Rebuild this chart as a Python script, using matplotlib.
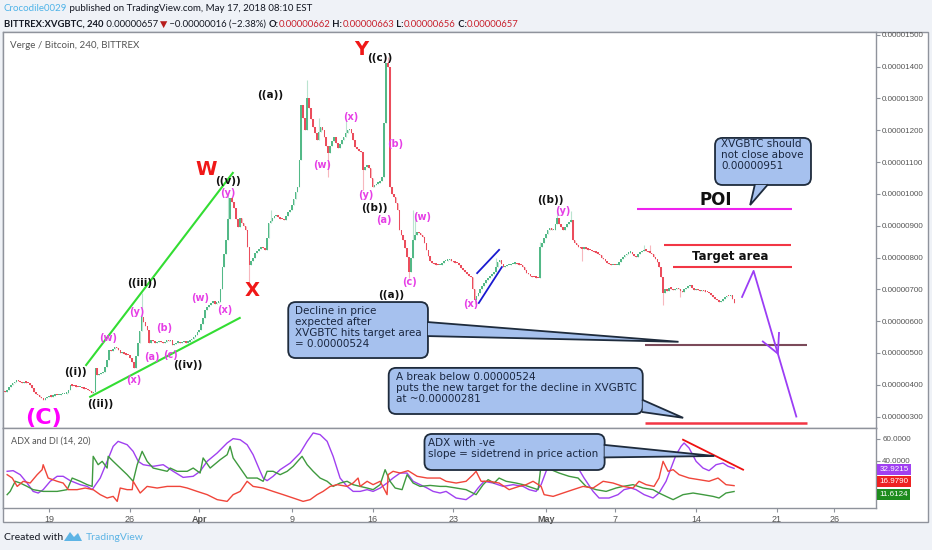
import matplotlib
matplotlib.use("Agg")
import matplotlib.pyplot as plt
from matplotlib.patches import FancyBboxPatch, Polygon, Rectangle
import numpy as np

# 4h candles, closes in satoshi (1e-8 BTC), Mar 15 00:00 -> May 17 08:00
closes = [
    380, 377, 385, 392, 400, 405, 410, 415, 412, 408,
    404, 410, 407, 405, 398, 390, 377, 372, 368, 362,
    357, 352, 358, 362, 365, 363, 366, 368, 367, 368,
    370, 371, 372, 374, 385, 399, 397, 395, 394, 392,
    393, 390, 388, 386, 384, 380, 374, 376, 453, 431,
    433, 436, 440, 455, 478, 509, 505, 512, 519, 515,
    508, 500, 503, 498, 495, 494, 484, 470, 453, 490,
    531, 570, 613, 598, 585, 572, 531, 540, 536, 530,
    534, 538, 533, 531, 535, 542, 538, 541, 525, 528,
    532, 535, 531, 533, 536, 532, 534, 540, 545, 550,
    556, 565, 572, 590, 610, 635, 645, 652, 657, 662,
    655, 658, 660, 700, 770, 810, 855, 920, 987, 975,
    956, 920, 896, 924, 910, 900, 887, 833, 777, 790,
    800, 814, 820, 826, 833, 830, 824, 860, 909, 915,
    925, 930, 934, 928, 922, 920, 918, 930, 942, 950,
    965, 985, 1005, 1022, 1107, 1280, 1240, 1201, 1302, 1270,
    1235, 1211, 1190, 1170, 1195, 1211, 1201, 1180, 1150, 1129,
    1150, 1165, 1179, 1160, 1145, 1158, 1170, 1179, 1190, 1201,
    1205, 1192, 1170, 1148, 1140, 1135, 1132, 1075, 1085, 1090,
    1082, 1050, 1022, 1028, 1032, 1035, 1040, 1053, 1223, 1412,
    1400, 1022, 1000, 991, 970, 950, 887, 870, 855, 830,
    802, 755, 800, 855, 870, 880, 876, 870, 865, 845,
    824, 805, 790, 783, 780, 778, 776, 777, 782, 788,
    790, 792, 795, 790, 786, 784, 783, 775, 768, 761,
    755, 748, 743, 739, 700, 667, 680, 689, 700, 712,
    720, 728, 735, 742, 748, 755, 770, 785, 792, 780,
    770, 772, 775, 777, 779, 781, 782, 780, 778, 777,
    770, 760, 752, 748, 743, 739, 738, 737, 736, 833,
    845, 860, 875, 887, 892, 885, 887, 905, 924, 905,
    895, 887, 895, 905, 912, 918, 855, 845, 838, 834,
    830, 828, 832, 826, 825, 824, 820, 818, 815, 812,
    808, 800, 795, 790, 783, 780, 776, 778, 775, 777,
    785, 795, 802, 808, 812, 815, 818, 812, 806, 802,
    810, 816, 820, 824, 822, 818, 815, 810, 802, 795,
    785, 770, 740, 689, 700, 695, 705, 702, 698, 700,
    705, 700, 695, 692, 700, 705, 710, 714, 705, 698,
    700, 698, 695, 697, 694, 693, 692, 688, 682, 676,
    670, 665, 660, 662, 670, 675, 680, 678, 682, 670,
    657,
]
first_open = 375
high_wicks = {72: 689, 117: 1000, 128: 800, 139: 950, 158: 1358, 164: 1240, 178: 1230,
              200: 1431, 213: 950, 214: 940, 256: 800, 279: 850, 288: 945, 295: 945,
              333: 840, 336: 840}
low_wicks = {128: 723, 169: 1053, 187: 1013, 211: 735, 245: 655, 301: 790, 343: 651, 352: 675}

# ADX / DI (14, 20) lines, x in days from Mar 19
adx_t = [-3.64, -3.12, -2.51, -1.91, -1.39, -0.95, -0.52, 0.09, 0.69, 1.21, 1.82, 2.68, 3.29, 3.72,
         4.42, 5.02, 5.54, 5.97, 6.75, 7.27, 7.71, 8.14, 9.00, 9.87, 10.74, 11.60, 12.47, 13.07,
         13.68, 14.55, 15.41, 15.93, 16.54, 17.14, 17.66, 18.27, 18.53, 18.87, 19.39, 20.00,
         20.87, 21.73, 22.34, 22.86, 23.46, 24.07, 24.59, 25.19, 25.80, 26.32, 26.93, 27.53,
         28.05, 28.66, 29.26, 29.78, 30.39, 30.99, 31.52, 32.12, 32.73, 33.25, 33.85, 34.37,
         35.24, 36.10, 36.71, 37.14, 37.66, 38.44, 39.31, 40.17, 41.04, 41.56, 42.16, 42.60,
         43.03, 43.46, 44.07, 44.50, 45.02, 45.63, 46.32, 47.10, 47.62, 48.48, 49.26, 49.78,
         50.39, 50.82, 51.52, 52.29, 52.81, 53.42, 53.85, 54.29, 54.72, 54.98, 55.41, 56.02,
         56.62, 57.14, 57.75, 58.35, 58.79, 59.31]
adx_v = [30.2, 30.8, 27.1, 19.4, 11.7, 10.2, 13.3, 21.0, 25.6, 25.6, 21.6, 17.9, 16.3, 13.3,
         24.0, 39.4, 53.2, 57.8, 54.7, 48.6, 39.4, 36.3, 34.8, 36.3, 30.2, 24.6, 25.6, 30.2,
         39.4, 47.1, 56.3, 60.3, 59.3, 54.7, 45.5, 30.2, 24.0, 21.6, 25.6, 31.7,
         37.8, 47.1, 57.8, 65.5, 64.0, 57.8, 44.0, 24.0, 16.3, 11.7, 11.7, 13.3,
         11.7, 14.8, 19.4, 24.0, 28.6, 28.6, 21.0, 17.9, 14.8, 11.7, 10.2, 11.7,
         5.6, 4.1, 8.7, 14.8, 21.0, 19.4, 16.3, 17.9, 16.3, 13.3, 11.7, 17.9,
         30.2, 39.4, 44.0, 45.5, 44.0, 36.3, 24.0, 11.7, 5.6, 5.6, 8.7, 13.3,
         14.8, 13.3, 8.7, 5.6, 10.2, 21.0, 33.2, 45.5, 53.2, 56.3, 51.7, 39.4,
         33.2, 30.8, 36.3, 37.8, 34.8, 32.9]
pdi_t = [-3.64, -3.38, -2.94, -2.51, -1.91, -1.39, -0.52, 0.69, 1.56, 1.99, 2.68, 3.29, 3.72, 3.81,
         4.24, 4.59, 5.02, 5.11, 5.54, 6.15, 6.75, 7.27, 7.62, 8.05, 8.48, 9.00, 9.61, 10.22,
         10.48, 11.08, 11.95, 12.47, 13.07, 13.33, 13.94, 14.81, 15.41, 15.67, 15.93, 16.54,
         17.14, 18.01, 18.53, 18.87, 19.39, 20.00, 20.61, 21.13, 21.90, 22.34, 22.86, 23.46,
         24.07, 24.59, 25.19, 25.80, 26.32, 26.93, 27.53, 28.05, 28.66, 29.09, 29.52, 29.96,
         30.56, 30.99, 31.52, 32.12, 32.99, 33.85, 34.37, 35.24, 36.10, 36.97, 37.58, 38.01,
         38.53, 38.96, 39.57, 40.43, 41.04, 41.90, 42.34, 42.60, 42.86, 43.20, 43.46, 44.16,
         45.02, 45.80, 46.49, 47.36, 48.23, 49.09, 49.70, 50.56, 51.43, 52.29, 52.81, 53.42,
         54.03, 54.89, 55.76, 56.62, 57.49, 58.01, 58.61, 59.31]
pdi_v = [8.7, 11.7, 21.0, 19.4, 16.3, 13.3, 11.7, 11.7, 13.3, 24.0, 21.0, 17.9, 16.3, 44.0,
         36.3, 39.4, 33.2, 44.0, 39.4, 33.2, 27.1, 21.0, 36.3, 48.6, 39.4, 33.2, 31.7, 30.2,
         33.2, 30.2, 30.2, 33.2, 28.6, 42.5, 33.2, 40.9, 45.5, 53.2, 42.5, 33.2,
         24.0, 24.0, 21.0, 30.2, 30.2, 27.1, 30.2, 34.8, 44.0, 36.3, 30.2, 24.0,
         21.0, 16.3, 19.4, 21.0, 17.9, 16.3, 14.8, 13.3, 17.9, 31.7, 21.0, 14.8,
         13.3, 27.1, 19.4, 16.3, 17.2, 16.3, 16.3, 14.8, 13.3, 8.7, 17.9, 22.5,
         19.4, 24.0, 21.0, 19.4, 17.9, 14.8, 13.3, 36.3, 31.7, 36.3, 31.7, 28.6,
         25.6, 24.0, 16.3, 13.3, 11.7, 14.8, 16.3, 17.9, 14.8, 13.3, 10.2, 7.1,
         4.1, 8.7, 10.2, 8.7, 7.1, 5.6, 10.2, 11.6]
mdi_t = [-3.64, -3.20, -2.77, -2.25, -1.65, -1.04, -0.61, -0.52, -0.09, 0.69, 1.21, 1.65, 2.42, 3.12,
         3.81, 4.42, 5.02, 5.54, 5.89, 6.15, 6.75, 7.19, 7.27, 7.88, 8.48, 9.35, 10.22, 11.34,
         11.95, 12.81, 13.68, 14.55, 15.41, 15.93, 16.54, 17.14, 17.66, 18.53, 19.39, 20.26,
         21.13, 21.99, 22.60, 23.20, 23.72, 24.33, 24.94, 25.80, 26.32, 26.75, 26.93, 27.53,
         28.05, 28.66, 29.26, 29.35, 29.78, 30.39, 31.08, 31.86, 32.73, 33.85, 34.37, 35.24,
         36.10, 36.71, 36.97, 37.40, 38.10, 38.96, 39.83, 40.69, 41.30, 41.90, 42.60, 42.86,
         43.64, 44.50, 45.37, 46.23, 47.10, 47.97, 48.83, 49.70, 50.56, 51.08, 51.69, 52.38,
         52.81, 53.16, 53.59, 54.03, 54.55, 55.41, 56.28, 57.14, 57.92, 58.61, 59.31]
mdi_v = [27.1, 24.0, 16.3, 21.0, 19.4, 27.1, 31.7, 36.3, 24.0, 21.0, 19.4, 13.3, 13.3, 14.8,
         13.3, 8.7, 5.6, 7.1, 2.5, 14.8, 13.3, 13.3, 21.0, 10.2, 16.3, 14.8, 16.3, 16.3,
         14.8, 11.7, 8.7, 4.1, 2.5, 8.7, 11.7, 21.0, 16.3, 14.8, 11.7, 8.7,
         5.6, 2.5, 4.1, 8.7, 11.7, 16.3, 17.9, 16.3, 19.4, 24.0, 16.3, 21.0,
         17.9, 21.0, 8.7, 27.1, 30.2, 28.6, 30.8, 25.6, 24.0, 24.0, 21.0, 19.4,
         21.0, 27.1, 30.2, 21.0, 21.0, 19.4, 13.3, 16.3, 17.9, 21.0, 16.3, 8.7,
         7.1, 10.2, 13.3, 16.3, 14.8, 21.0, 19.4, 16.3, 14.8, 21.0, 17.9, 16.3,
         24.0, 39.4, 30.2, 31.7, 27.1, 24.0, 22.5, 21.0, 24.0, 17.9, 17.0]
last_values = ["32.9215", "16.9790", "11.6124"]

tick_days = [0, 7, 13, 21, 28, 35, 43, 49, 56, 63, 68]
tick_labels = ["19", "26", "Apr", "9", "16", "23", "May", "7", "14", "21", "26"]
price_ticks = list(range(300, 1501, 100))

# wave labels: (text, day, price)
red_labels = [("W", 13.6, 1078), ("X", 17.6, 695), ("Y", 27.0, 1455)]
black_labels = [("((i))", 2.25, 440), ("((ii))", 4.4, 340), ("((iii))", 8.05, 720),
                ("((iv))", 12.0, 462), ("((v))", 15.5, 1040), ("((a))", 19.1, 1311),
                ("((c))", 28.6, 1426), ("((b))", 28.2, 956), ("((a))", 29.6, 682),
                ("((b))", 43.4, 981)]
pink_labels = [("(w)", 5.1, 547), ("(x)", 7.3, 415), ("(y)", 7.6, 629), ("(a)", 8.9, 487),
               ("(b)", 10.0, 578), ("(c)", 10.5, 492), ("(w)", 13.1, 673), ("(x)", 15.2, 635),
               ("(y)", 15.5, 1003), ("(w)", 23.6, 1091), ("(x)", 26.1, 1242), ("(y)", 27.4, 997),
               ("(b)", 30.0, 1157), ("(a)", 29.0, 918), ("(c)", 31.2, 722), ("(w)", 32.3, 928),
               ("(x)", 36.5, 654), ("(y)", 44.5, 946)]

BG = "#eff2f7"
GRID = "#8f939c"
GREEN = "#53b987"
RED = "#eb4d5c"
PINK = "#e63fe6"
PURPLE = "#a040f0"
BOXFC = "#a6c1ee"
BOXEC = "#1e2b3c"

fig = plt.figure(figsize=(9.32, 5.5), dpi=100, facecolor=BG)

# overlay in pixel coords for frame / header / footer
ov = fig.add_axes([0, 0, 1, 1], zorder=0)
ov.set_xlim(0, 932)
ov.set_ylim(550, 0)
ov.axis("off")
ov.add_patch(Rectangle((3, 32), 925, 490, fc="white", ec=GRID, lw=1.0))

ax = fig.add_axes([3 / 932, 1 - 428 / 550, 873 / 932, 396 / 550], zorder=1)
ax2 = fig.add_axes([3 / 932, 1 - 508 / 550, 873 / 932, 80 / 550], zorder=1, sharex=ax)

# ---- candles
c = np.array(closes, dtype=float)
o = np.r_[first_open, c[:-1]]
h = np.maximum(o, c)
l = np.minimum(o, c)
for i, v in high_wicks.items():
    h[i] = max(h[i], v)
for i, v in low_wicks.items():
    l[i] = min(l[i], v)
t = -4 + np.arange(len(c)) / 6
cols = np.where(c >= o, GREEN, RED)
ax.vlines(t, l, h, colors=cols, lw=0.8, alpha=0.4)
ax.bar(t, np.maximum(np.abs(c - o), 4), bottom=np.minimum(o, c), width=0.145, color=cols, lw=0)

ax.set_xlim(-4.0, 71.6)
ax.set_ylim(264, 1509)
ax.yaxis.tick_right()
ax.set_yticks(price_ticks)
ax.set_yticklabels([f"{v / 1e8:.8f}" for v in price_ticks])
ax.tick_params(axis="y", length=3, color=GRID, labelsize=5.8, labelcolor="#555555", pad=1.5)
ax.tick_params(axis="x", bottom=False, labelbottom=False)
for s in ax.spines.values():
    s.set_color(GRID)
    s.set_linewidth(1.0)
for lab in ax.get_yticklabels():
    lab.set_family("Liberation Sans")

ax.text(0.008, 0.967, "Verge / Bitcoin, 240, BITTREX", transform=ax.transAxes,
        fontsize=7, color="#555555", family="Lato", va="center")

# wave labels
for s, x, y in red_labels:
    ax.text(x, y, s, color="#f01818", fontsize=14, fontweight="bold", ha="center", va="center")
for s, x, y in black_labels:
    ax.text(x, y, s, color="#111111", fontsize=7.5, fontweight="bold", ha="center", va="center")
for s, x, y in pink_labels:
    ax.text(x, y, s, color=PINK, fontsize=7, fontweight="bold", ha="center", va="center")
ax.text(-0.5, 296, "(C)", color="#ff00ff", fontsize=16, fontweight="bold", ha="center", va="center")

# trend lines
ax.plot([3.2, 15.9], [462, 1066], color="#33dd33", lw=1.5)
ax.plot([3.55, 16.5], [362, 610], color="#33dd33", lw=1.5)
ax.plot([37.06, 38.96], [751, 824], color="#1a1ad0", lw=1.3)
ax.plot([37.2, 39.2], [657, 770], color="#1a1ad0", lw=1.3)

# levels
ax.hlines(951, 50.9, 64.3, color="#ee22ee", lw=1.5)
ax.hlines(840, 53.2, 64.2, color="#f23645", lw=1.5)
ax.hlines(770, 54.0, 64.3, color="#f23645", lw=1.5)
ax.hlines(524, 51.6, 65.6, color="#7b4a5a", lw=1.5)
ax.hlines(281, 51.6, 65.6, color="#f23645", lw=1.8)
ax.text(57.7, 981, "POI", fontsize=12, fontweight="bold", ha="center", va="center", color="#111111")
ax.text(59.0, 802, "Target area", fontsize=8.5, fontweight="bold", ha="center", va="center", color="#111111")

# projected path
ax.plot([60.0, 61.0, 64.7], [676, 758, 300], color="#9b3df5", lw=1.3)
ax.plot([61.8, 63.1, 63.2], [536, 498, 563], color="#9b3df5", lw=1.3)


def callout(a, x0, x1, y0, y1, base, tip, text, tx, ty, aspect):
    box = FancyBboxPatch((x0, y0), x1 - x0, y1 - y0,
                         boxstyle="round,pad=0,rounding_size=0.65",
                         mutation_aspect=aspect, fc=BOXFC, ec=BOXEC, lw=1.3, zorder=5)
    a.add_patch(box)
    a.add_patch(Polygon([base[0], tip, base[1]], closed=True, fc=BOXFC, ec="none", zorder=6))
    a.plot([base[0][0], tip[0], base[1][0]], [base[0][1], tip[1], base[1][1]],
           color=BOXEC, lw=1.3, zorder=6, solid_joinstyle="miter")
    a.text(tx, ty, text, fontsize=7.5, color="#1a2740", va="top", ha="left",
           linespacing=1.1, zorder=7)


pa = 36.3
callout(ax, 57.66, 65.97, 1028, 1176, [(61.1, 1028), (62.2, 1028)], (60.7, 965),
        "XVGBTC should\nnot close above\n0.00000951", 58.2, 1172, pa)
callout(ax, 20.7, 32.8, 484, 660, [(32.8, 597), (32.8, 553)], (54.5, 535),
        "Decline in price\nexpected after\nXVGBTC hits target area\n= 0.00000524", 21.3, 647, pa)
callout(ax, 29.4, 51.4, 308, 453, [(51.4, 352), (51.4, 314)], (54.9, 296),
        "A break below 0.00000524\nputs the new target for the decline in XVGBTC\nat ~0.00000281",
        30.0, 440, pa)

# ---- ADX panel
ax2.plot(adx_t, adx_v, color=PURPLE, lw=1.0)
ax2.plot(pdi_t, pdi_v, color="#3f9a3f", lw=1.0)
ax2.plot(mdi_t, mdi_v, color="#f0453a", lw=1.0)
ax2.plot([54.89, 60.09], [59.3, 31.7], color="#ee1111", lw=1.3)
ax2.set_ylim(-3.6, 70.1)
ax2.yaxis.tick_right()
ax2.set_yticks([40, 60])
ax2.set_yticklabels(["40.0000", "60.0000"])
ax2.tick_params(axis="y", length=3, color=GRID, labelsize=5.8, labelcolor="#555555", pad=1.5)
ax2.set_xticks(tick_days)
ax2.set_xticklabels(tick_labels)
ax2.tick_params(axis="x", length=3, color=GRID, labelsize=6.5, labelcolor="#555555", pad=2)
for lab in ax2.get_xticklabels():
    lab.set_family("Liberation Sans")
    if lab.get_text() in ("Apr", "May"):
        lab.set_fontweight("bold")
for lab in ax2.get_yticklabels():
    lab.set_family("Liberation Sans")
for s in ax2.spines.values():
    s.set_color(GRID)
    s.set_linewidth(1.0)
ax2.text(0.009, 0.84, "ADX and DI (14, 20)", transform=ax2.transAxes, fontsize=6.5,
         color="#555555", family="Lato", va="center")
callout(ax2, 32.5, 48.1, 31.4, 64.6, [(48.1, 54.5), (48.1, 43.0)], (57.6, 44.3),
        "ADX with -ve\nslope = sidetrend in price action", 32.8, 60.5, 10.65)

tr = ax2.get_yaxis_transform()
for s, y, col in zip(last_values, [31.6, 20.4, 8.4], [PURPLE, "#ee2222", "#1e8c1e"]):
    ax2.text(1.004, y, s, transform=tr, fontsize=5.8, color="white", family="Liberation Sans",
             va="center", ha="left", clip_on=False, zorder=8,
             bbox=dict(boxstyle="square,pad=0.25", fc=col, ec="none"))

# ---- header (rainbow text)
def chain(parts, x, y, size):
    prev = None
    for s, col, wt in parts:
        kw = dict(fontsize=size, color=col, fontweight=wt, family=["Lato", "DejaVu Sans"], va="bottom")
        if prev is None:
            prev = ov.text(x, y, s, ha="left", **kw)
        else:
            prev = ov.annotate(s, xy=(1, 0), xycoords=prev, ha="left", **kw)


DARK = "#131722"
VRED = "#c8202c"
chain([("Crocodile0029", "#4fb3e8", "normal"),
       (" published on TradingView.com, May 17, 2018 08:10 EST", DARK, "normal")], 4, 13, 7.0)
chain([("BITTREX:XVGBTC, 240", DARK, "bold"), (" 0.00000657 ", DARK, "normal"),
       ("\u25bc", "#b71c1c", "normal"), (" \u22120.00000016 (\u22122.38%) ", DARK, "normal"),
       ("O:", DARK, "bold"), ("0.00000662", VRED, "normal"), (" H:", DARK, "bold"),
       ("0.00000663", VRED, "normal"), (" L:", DARK, "bold"), ("0.00000656", VRED, "normal"),
       (" C:", DARK, "bold"), ("0.00000657", VRED, "normal")], 4, 29, 6.8)

# footer
ov.text(4, 537, "Created with", fontsize=7.5, color=DARK, family="Lato", va="center")
ov.add_patch(Polygon([(64, 541), (70, 532), (74, 537), (78, 533), (82, 541)], closed=True,
                     fc="#5db4e5", ec="none"))
ov.text(86, 537, "TradingView", fontsize=7.5, color="#5db4e5", family="Lato", va="center")

fig.savefig("out.png", dpi=100, facecolor=BG)
